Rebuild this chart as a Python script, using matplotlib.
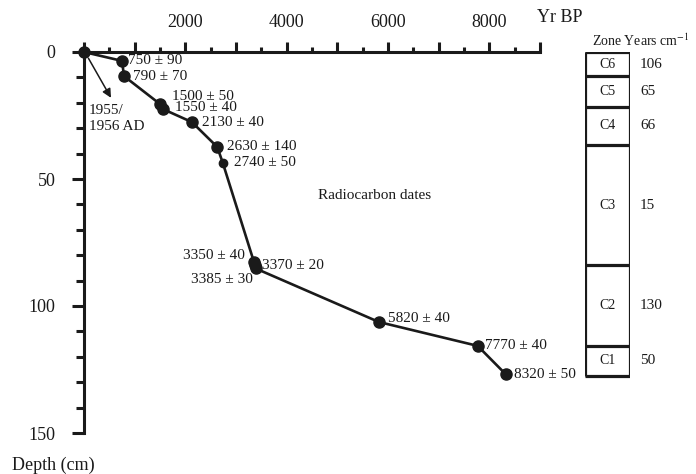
import matplotlib
matplotlib.use("Agg")
import matplotlib.pyplot as plt
from matplotlib.ticker import MultipleLocator, FuncFormatter

plt.rcParams["font.family"] = ["Liberation Serif", "DejaVu Serif"]
plt.rcParams["mathtext.fontset"] = "stix"

# radiocarbon dates: age (yr BP), depth (cm)
ages = [0, 750, 790, 1500, 1550, 2130, 2630, 2740, 3355, 3370, 3385, 5820, 7770, 8320]
depths = [0, 3.5, 9.5, 20.5, 22.4, 27.6, 37.4, 43.7, 82.7, 84.0, 85.2, 106.3, 115.7, 126.8]
date_labels = ["", "750 ± 90", "790 ± 70", "1500 ± 50", "1550 ± 40", "2130 ± 40",
               "2630 ± 140", "2740 ± 50", "3350 ± 40", "3370 ± 20", "3385 ± 30",
               "5820 ± 40", "7770 ± 40", "8320 ± 50"]
# label offsets in pixels (dx, dy) and alignment
label_offsets = [(0, 0), (6, 0), (9, 0), (12, 8), (12, 1), (10, 0), (10, 0), (11, 0),
                 (-9, 7), (7, 0), (-3, -11), (9, 4), (7, 0), (8, 0)]
label_ha = ["left"] * 8 + ["right", "left", "right"] + ["left"] * 3

# zones
zone_names = ["C6", "C5", "C4", "C3", "C2", "C1"]
zone_bounds = [0, 9.5, 21.5, 36.6, 84.0, 115.7, 127.6]
zone_rates = ["106", "65", "66", "15", "130", "50"]

W, H = 696, 474
ink = "#1a1a1a"
fig = plt.figure(figsize=(W / 100, H / 100), dpi=100)
ax = fig.add_axes([84 / W, 41 / H, 456 / W, 381 / H])

ax.plot(ages, depths, color=ink, lw=1.9, zorder=2, clip_on=False)
sizes = [8] * len(ages)
sizes[7] = 6
for a, d, s in zip(ages, depths, sizes):
    ax.plot(a, d, "o", color=ink, ms=s, zorder=3, clip_on=False)

for a, d, lab, off, ha in zip(ages, depths, date_labels, label_offsets, label_ha):
    if lab:
        ax.annotate(lab, (a, d), xytext=off, textcoords="offset pixels",
                    ha=ha, va="center", fontsize=11, color=ink)

ax.annotate("", xy=(560, 19), xytext=(60, 1.5),
            arrowprops=dict(arrowstyle="-|>", color=ink, lw=1.1, mutation_scale=13))
ax.text(100, 20.5, "1955/\n1956 AD", ha="left", va="top", fontsize=11,
        linespacing=1.25, color=ink)
ax.text(4620, 56.3, "Radiocarbon dates", ha="left", va="center", fontsize=11,
        color=ink)

ax.set_xlim(0, 9000)
ax.set_ylim(150, 0)
for side in ["right", "bottom"]:
    ax.spines[side].set_visible(False)
for side in ["left", "top"]:
    ax.spines[side].set_linewidth(2.2)
    ax.spines[side].set_color(ink)
    ax.spines[side].set_capstyle("projecting")

ax.xaxis.tick_top()
ax.xaxis.set_major_locator(MultipleLocator(1000))
ax.xaxis.set_minor_locator(MultipleLocator(500))
ax.xaxis.set_major_formatter(FuncFormatter(
    lambda v, p: f"{int(v)}" if int(v) in (2000, 4000, 6000, 8000) else ""))
ax.yaxis.set_major_locator(MultipleLocator(50))
ax.yaxis.set_minor_locator(MultipleLocator(10))
ax.tick_params(axis="x", which="major", direction="out", length=7.5, width=2.2,
               labelsize=13, pad=7.5, color=ink, labelcolor=ink)
ax.tick_params(axis="x", which="minor", direction="out", length=3.5, width=2.2,
               color=ink)
ax.tick_params(axis="y", which="major", direction="out", length=8.5, width=2.2,
               labelsize=13, pad=12, color=ink, labelcolor=ink)
ax.tick_params(axis="y", which="minor", direction="out", length=5.5, width=2.2,
               color=ink)

fig.text(537 / W, 1 - 18 / H, "Yr BP", ha="left", va="center", fontsize=13, color=ink)
fig.text(12 / W, 1 - 465 / H, "Depth (cm)", ha="left", va="center", fontsize=13,
         color=ink)

# zone column
zx = fig.add_axes([585 / W, 41 / H, 45 / W, 381 / H], sharey=ax)
zx.set_xlim(0, 1)
zx.axis("off")
zlw = 2.3
zx.vlines([0, 1], zone_bounds[0], zone_bounds[-1], color=ink, lw=zlw)
zx.hlines(zone_bounds, 0, 1, color=ink, lw=zlw)
for i, (name, rate) in enumerate(zip(zone_names, zone_rates)):
    mid = (zone_bounds[i] + zone_bounds[i + 1]) / 2
    zx.text(0.5, mid, name, ha="center", va="center", fontsize=10, color=ink)
    zx.text(1.22, mid, rate, ha="left", va="center", fontsize=11, color=ink)
fig.text(592 / W, 1 - 41 / H, "Zone Years cm$^{-1}$", ha="left", va="center",
         fontsize=10, color=ink)

fig.savefig("out.png", dpi=100)
